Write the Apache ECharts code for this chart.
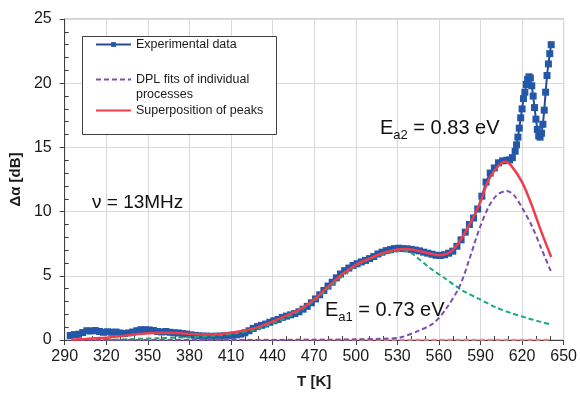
<!DOCTYPE html>
<html><head><meta charset="utf-8">
<script src="https://cdn.jsdelivr.net/npm/echarts@6/dist/echarts.min.js"></script>
<style>html,body{margin:0;padding:0;background:#fff}#c{width:580px;height:394px}</style>
</head><body><div id="c"></div>
<script>
// Experimental data
const expT = [294,297,300,303,306,309,312,315,318,321,324,327,330,333,336,339,342,345,348,351,354,357,360,363,366,369,372,375,378,381,384,387,390,393,396,399,402,405,408,411,414,417,420,423,426,429,432,435,438,441,444,447,450,453,456,459,462,465,468,471,474,477,480,483,486,489,492,495,498,501,504,507,510,513,516,519,522,525,528,531,534,537,540,543,546,549,552,555,558,561,564,567,570,573,576,579,582,585,588,591,594,597,600,603,606,609,611,613,615,616,617,618,619,620,621,622,623,624,625,626,627,628,629,630,631,632,633,634,635,636,637,638,639,640,641];
const expA = [0.35,0.42,0.45,0.58,0.72,0.7,0.74,0.66,0.6,0.64,0.6,0.62,0.55,0.5,0.55,0.62,0.72,0.8,0.8,0.78,0.74,0.66,0.62,0.66,0.6,0.56,0.55,0.5,0.46,0.4,0.36,0.33,0.3,0.3,0.28,0.3,0.3,0.32,0.34,0.36,0.4,0.46,0.56,0.72,0.9,1.04,1.14,1.24,1.38,1.5,1.6,1.76,1.86,1.96,2.06,2.2,2.4,2.62,2.9,3.2,3.52,3.86,4.2,4.5,4.84,5.14,5.4,5.6,5.8,5.94,6.08,6.2,6.34,6.5,6.7,6.84,6.96,7.04,7.12,7.15,7.12,7.1,7.06,7.0,6.94,6.84,6.76,6.68,6.6,6.58,6.64,6.76,6.92,7.3,7.8,8.4,9.0,9.5,10.2,11.2,12.3,13.0,13.4,13.8,13.95,14.0,14.02,14.2,14.7,15.2,15.8,16.5,17.3,18.0,18.8,19.3,19.9,20.3,20.5,20.4,19.8,19.0,18.1,17.2,16.4,15.9,15.8,16.1,16.8,17.9,19.3,20.6,21.5,22.3,23.0];

// Superposition of peaks (red)
const sumT = [295,305,315,322,330,340,346,355,365,372,381,393,402,412,420,429,440,450,460,470,480,490,500,510,520,530,536,545,555,561,570,579,589,596,603,608,612,620,627,634,641];
const sumA = [0.02,0.08,0.15,0.2,0.3,0.42,0.49,0.55,0.57,0.54,0.47,0.42,0.47,0.6,0.75,0.98,1.45,1.9,2.4,3.15,4.15,5.1,5.85,6.35,6.8,7.05,7.08,6.95,6.7,6.6,7.0,8.4,10.5,12.5,13.57,13.88,13.6,12.3,10.5,8.4,6.47];

// DPL process 2 (purple)
const p2T = [295,400,480,500,518,532,546,556,565,575,582,589,596,602,609,614,620,627,634,641];
const p2A = [0,0,0.02,0.05,0.1,0.2,0.75,1.3,2.4,4.2,6.3,8.6,10.4,11.3,11.6,11.3,10.3,8.9,7.1,5.3];

// DPL process 1 (green)
const p1T = [320,340,360,380,400,415,430,440,450,460,470,480,490,500,510,520,530,536,541,553,565,577,589,601,612,624,632,641];
const p1A = [0.02,0.08,0.15,0.22,0.35,0.55,0.9,1.3,1.75,2.3,3.05,4.0,4.95,5.75,6.3,6.7,6.9,6.95,6.7,5.65,4.75,3.85,3.2,2.55,2.1,1.7,1.45,1.2];

// DPL process 3 (near zero)
const p3T = [295,641];
const p3A = [0.02,0.02];

const xTicks = [290,650,30];
const yTicks = [0,25,5];

function zip(a,b){return a.map((v,i)=>[v,b[i]]);}
const FONT = 'Liberation Sans, Arial, sans-serif';
const legText = {fontFamily:FONT,fontSize:12.5,color:'#1a1a1a'};
const chart = echarts.init(document.getElementById('c'));
chart.setOption({
  animation:false,
  backgroundColor:'#fff',
  grid:{left:60,right:14,top:19,bottom:52,show:true,borderColor:'#a6a6a6',borderWidth:1},
  xAxis:{type:'value',min:xTicks[0],max:xTicks[1],interval:xTicks[2],
    name:'T [K]',nameLocation:'middle',nameGap:34,
    nameTextStyle:{fontFamily:FONT,fontSize:15,fontWeight:'bold',color:'#1a1a1a'},
    axisLine:{lineStyle:{color:'#404040',width:1}},
    axisTick:{show:true,length:5,lineStyle:{color:'#404040'}},
    minorTick:{show:true,splitNumber:3,length:-4,lineStyle:{color:'#404040'}},
    splitLine:{show:true,lineStyle:{color:'#d9d9d9',width:1}},
    axisLabel:{fontFamily:FONT,fontSize:16,color:'#1a1a1a',margin:9}},
  yAxis:{type:'value',min:yTicks[0],max:yTicks[1],interval:yTicks[2],
    name:'Δα [dB]',nameLocation:'middle',nameGap:35,nameRotate:90,
    nameTextStyle:{fontFamily:FONT,fontSize:15,fontWeight:'bold',color:'#1a1a1a'},
    axisLine:{show:true,lineStyle:{color:'#404040',width:1}},
    axisTick:{show:true,length:5,lineStyle:{color:'#404040'}},
    minorTick:{show:true,splitNumber:5,length:-4,lineStyle:{color:'#404040'}},
    splitLine:{show:true,lineStyle:{color:'#d9d9d9',width:1}},
    axisLabel:{fontFamily:FONT,fontSize:16,color:'#1a1a1a',margin:13}},
  legend:[
    {data:['Experimental data'],left:95,top:38,orient:'vertical',itemWidth:35,itemHeight:6,padding:0,
      textStyle:legText},
    {data:['DPL fits of individual processes'],left:95,top:57,orient:'vertical',itemWidth:35,itemHeight:6,padding:0,
      itemStyle:{opacity:0},
      formatter:()=>' \nDPL fits of individual\nprocesses',
      textStyle:Object.assign({},legText,{lineHeight:15})},
    {data:['Superposition of peaks'],left:95,top:104,orient:'vertical',itemWidth:35,itemHeight:6,padding:0,
      itemStyle:{opacity:0},
      textStyle:legText}
  ],
  graphic:[
    {type:'rect',z:3,shape:{x:82.5,y:36.5,width:194,height:98},style:{fill:'#fff',stroke:'#404040',lineWidth:1}},
    {type:'text',z:10,left:92,top:193,style:{text:'ν = 13MHz',fontFamily:FONT,fontSize:19,fill:'#111'}},
    {type:'text',z:10,left:380,top:118,style:{text:'{n|E}{s|a2}{n| = 0.83 eV}',fill:'#111',
      rich:{n:{fontFamily:FONT,fontSize:20,lineHeight:24,fill:'#111',verticalAlign:'top'},s:{fontFamily:FONT,fontSize:13,lineHeight:13,fill:'#111',verticalAlign:'bottom'}}}},
    {type:'text',z:10,left:325,top:300,style:{text:'{n|E}{s|a1}{n| = 0.73 eV}',fill:'#111',
      rich:{n:{fontFamily:FONT,fontSize:20,lineHeight:24,fill:'#111',verticalAlign:'top'},s:{fontFamily:FONT,fontSize:13,lineHeight:13,fill:'#111',verticalAlign:'bottom'}}}}
  ],
  series:[
    {name:'Experimental data',type:'line',data:zip(expT,expA),symbol:'rect',symbolSize:7,showSymbol:true,
      lineStyle:{color:'#2b4a94',width:2},itemStyle:{color:'#2358a8'},z:2},
    {name:'DPL fit 1',type:'line',data:zip(p1T,p1A),symbol:'none',smooth:0.3,
      lineStyle:{color:'#1aa97a',width:2,type:[5,3]},z:3},
    {name:'DPL fit 3',type:'line',data:zip(p3T,p3A),symbol:'none',
      lineStyle:{color:'#f08a8a',width:2,type:[5,3]},z:3},
    {name:'DPL fits of individual processes',type:'line',data:zip(p2T,p2A),symbol:'none',smooth:0.3,
      lineStyle:{color:'#7b4fae',width:2,type:[5,3]},itemStyle:{color:'#7b4fae'},z:3},
    {name:'Superposition of peaks',type:'line',data:zip(sumT,sumA),symbol:'none',smooth:0.3,
      lineStyle:{color:'#ef3d4c',width:2.5},itemStyle:{color:'#ef3d4c'},z:4}
  ]
});
</script></body></html>
